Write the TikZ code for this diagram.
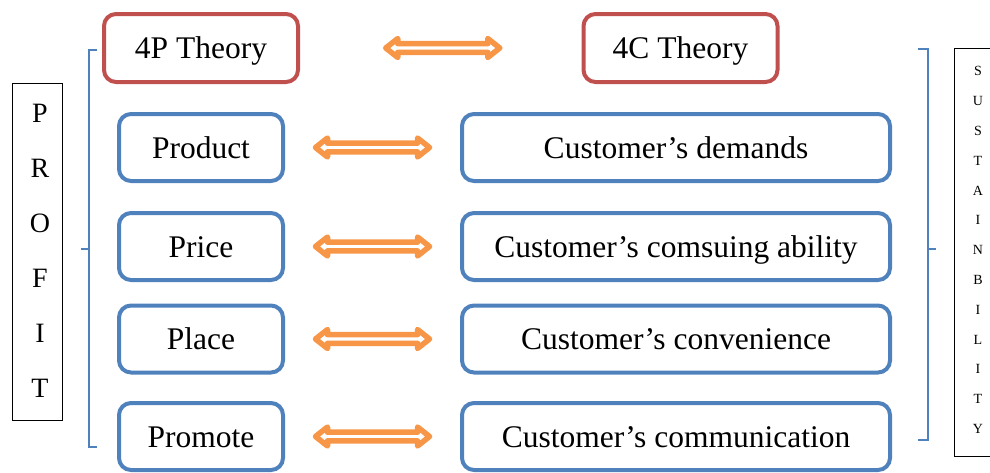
\documentclass[tikz,border=0pt]{standalone}
\usepackage{fontspec}
\setmainfont{Liberation Serif}
\usetikzlibrary{calc}
\definecolor{myred}{HTML}{C0504D}
\definecolor{myblue}{HTML}{4F81BD}
\definecolor{myorange}{HTML}{F79646}
\begin{document}
\begin{tikzpicture}[x=1pt,y=-1pt,
  box/.style={draw, rounded corners=12pt, line width=4pt, inner sep=0pt,
    font=\fontsize{31.5}{36}\selectfont, text height=21pt, text depth=0pt},
  redbox/.style={box, draw=myred, minimum width=194pt, minimum height=68pt},
  leftbox/.style={box, draw=myblue, minimum width=164pt, minimum height=67pt},
  rightbox/.style={box, draw=myblue, minimum width=428pt, minimum height=67pt},
  brace/.style={draw=myblue, line width=1.2pt},
  darr/.pic={\draw[myorange, line width=5.5pt, fill=white, line join=round]
     (-57,0) -- (-45,9.5) -- (-45,4.3) -- (45,4.3) -- (45,9.5) -- (57,0)
     -- (45,-9.5) -- (45,-4.3) -- (-45,-4.3) -- (-45,-9.5) -- cycle;}
]
\useasboundingbox (0,0) rectangle (990,472);
\clip (0,0) rectangle (990,472);

% headers
\node[redbox] (p0) at (201,48) {4P Theory};
\node[redbox] (c0) at (680.5,48) {4C Theory};

% rows
\node[leftbox] (p1) at (201,147.5) {Product};
\node[leftbox] (p2) at (201,246.5) {Price};
\node[leftbox] (p3) at (201,339) {Place};
\node[leftbox] (p4) at (201,436.5) {Promote};

\node[rightbox] (c1) at (676,147.5) {Customer’s demands};
\node[rightbox] (c2) at (676,246.5) {Customer’s comsuing ability};
\node[rightbox] (c3) at (676,339) {Customer’s convenience};
\node[rightbox] (c4) at (676,436.5) {Customer’s communication};

% double arrows
\pic at ($(p0.east)!0.5!(c0.west)+(2,0)$) {darr};
\pic at ($(p1.east)!0.5!(c1.west)$) {darr};
\pic at ($(p2.east)!0.5!(c2.west)$) {darr};
\pic at ($(p3.east)!0.5!(c3.west)$) {darr};
\pic at ($(p4.east)!0.5!(c4.west)$) {darr};

% left brace
\draw[brace] (97,50) -- (89,50) -- (89,447) -- (97,447);
\draw[brace] (89,249) -- (81,249);
% right brace
\draw[brace] (918,49) -- (928,49) -- (928,440) -- (918,440);
\draw[brace] (928,249) -- (936,249);

% PROFIT box
\node[draw, line width=0.9pt, minimum width=50pt, minimum height=337pt] (profitbox) at (37.5,251.5) {};
\node[align=center, font=\fontsize{28}{55}\selectfont] (profit) at (40,251) {P\\R\\O\\F\\I\\T};

% SUSTAINBILITY box
\node[draw, line width=0.9pt, minimum width=60pt, minimum height=408pt, anchor=north west] (sustbox) at (954,48) {};
\node[align=center, font=\fontsize{14}{29.8}\selectfont] (sust) at (978,250) {S\\U\\S\\T\\A\\I\\N\\B\\I\\L\\I\\T\\Y};
\end{tikzpicture}
\end{document}
